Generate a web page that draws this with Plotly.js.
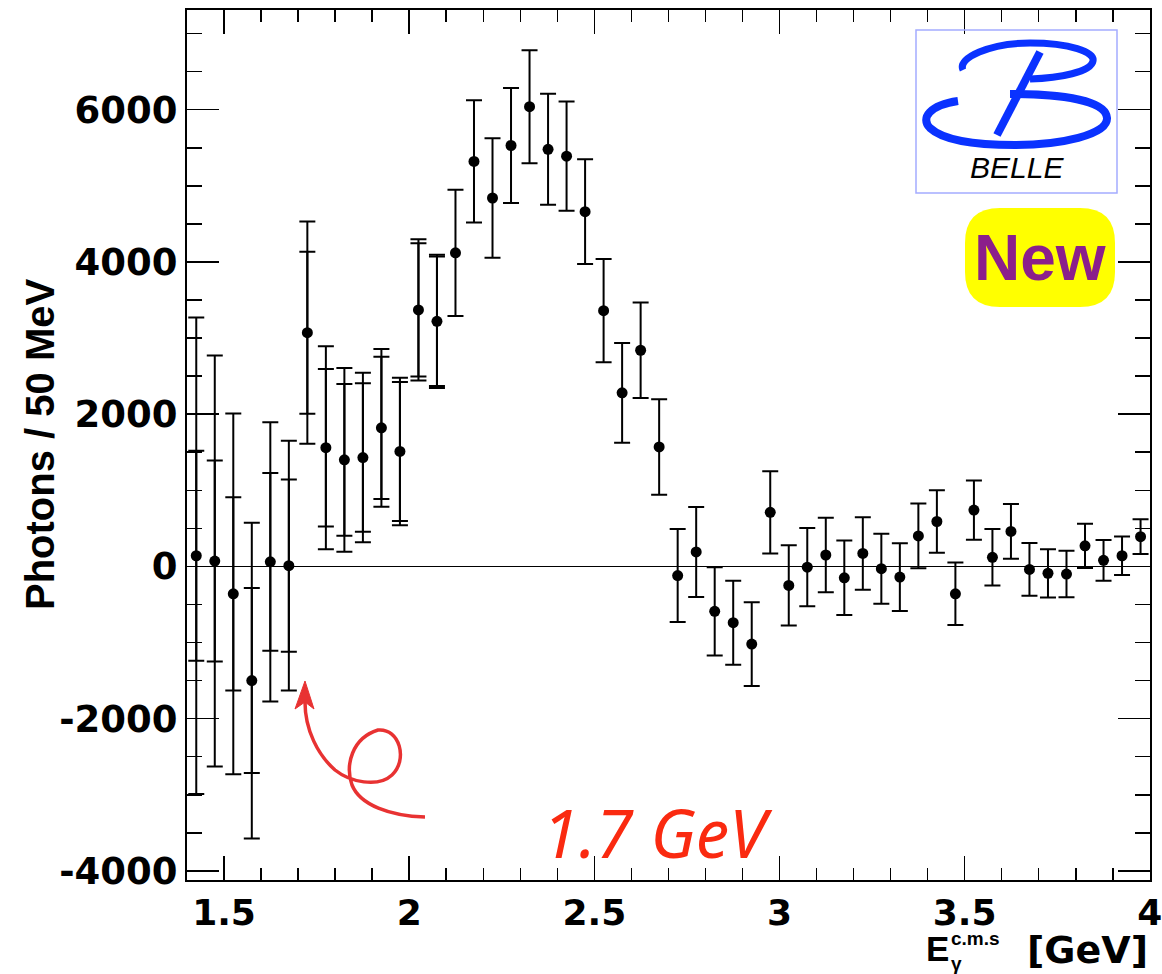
<!DOCTYPE html>
<html>
<head>
<meta charset="utf-8">
<script src="https://cdn.plot.ly/plotly-3.0.1.min.js"></script>
<style>
  html, body { margin: 0; padding: 0; background: #fff; }
  #chart { width: 1162px; height: 974px; }
</style>
</head>
<body>
<div id="chart"></div>
<script>
// Photon energy spectrum, 50 MeV bins (bin centres in GeV)
const binCentres = [
  1.425, 1.475, 1.525, 1.575, 1.625, 1.675, 1.725, 1.775, 1.825, 1.875,
  1.925, 1.975, 2.025, 2.075, 2.125, 2.175, 2.225, 2.275, 2.325, 2.375,
  2.425, 2.475, 2.525, 2.575, 2.625, 2.675, 2.725, 2.775, 2.825, 2.875,
  2.925, 2.975, 3.025, 3.075, 3.125, 3.175, 3.225, 3.275, 3.325, 3.375,
  3.425, 3.475, 3.525, 3.575, 3.625, 3.675, 3.725, 3.775, 3.825, 3.875,
  3.925, 3.975
];

// Photons per bin
const photons = [
   140,    70,  -360, -1500,    60,    10,  3070,  1560,  1400,  1430,
  1820,  1510,  3370,  3220,  4120,  5320,  4840,  5530,  6040,  5480,
  5390,  4660,  3360,  2280,  2840,  1570,  -120,   190,  -590,  -740,
 -1020,   710,  -250,   -10,   150,  -150,   170,   -30,  -140,   400,
   590,  -360,   740,   120,   460,   -40,   -90,  -100,   270,    80,
   140,   390
];

// Total uncertainty (statistical + systematic)
const totalError = [
  3130, 2700, 2370, 2075, 1835, 1640, 1460, 1333, 1206, 1113,
  1036,  968,  927,  875,  830,  803,  784,  754,  742,  730,
   718,  688,  679,  655,  627,  627,  612,  591,  580,  552,
   550,  540,  528,  515,  490,  490,  477,  460,  445,  425,
   410,  410,  390,  372,  360,  346,  317,  306,  290,  267,
   254,  228
];

// Statistical-only uncertainty for the low-energy bins
const statError = [
  1380, 1320, 1270, 1215, 1167, 1132, 1065, 1035,  997,  975,
   935,  913,  876,  850
];

const xTickValues = [1.5, 2, 2.5, 3, 3.5, 4];
const xTickLabels = ['1.5', '2', '2.5', '3', '3.5', '4'];
const yTickValues = [-4000, -2000, 0, 2000, 4000, 6000];
const yTickLabels = ['-4000', '-2000', '0', '2000', '4000', '6000'];

// Page geometry of the frame (pixels)
const L = 187, T = 10, W = 963, H = 870;
const px = x => (x - L) / W;
const py = y => (T + H - y) / H;

// Turn [cmd, x, y, ...] pieces given in page pixels into a paper-space path;
// multi-point curves are split so every segment carries its own command letter.
function pathFrom(parts) {
  const segs = [];
  parts.forEach(p => {
    const cmd = p[0];
    const nums = p.slice(1);
    const per = cmd === 'C' ? 6 : (cmd === 'Q' ? 4 : 2);
    if (nums.length === 0) { segs.push(cmd); return; }
    for (let i = 0; i < nums.length; i += per) {
      const pts = [];
      for (let j = i; j < i + per; j += 2) {
        pts.push(px(nums[j]).toFixed(5) + ',' + py(nums[j + 1]).toFixed(5));
      }
      segs.push(cmd + pts.join(' '));
    }
  });
  return segs.join(' ');
}

const nStat = statError.length;

const traces = [
  {
    type: 'scatter', mode: 'markers',
    x: binCentres.slice(0, nStat), y: photons.slice(0, nStat),
    marker: { size: 11, color: 'rgba(0,0,0,0)' },
    error_y: { type: 'data', array: statError, visible: true,
               color: '#000', thickness: 2, width: 8 },
    hoverinfo: 'skip', showlegend: false
  },
  {
    type: 'scatter', mode: 'markers',
    x: binCentres, y: photons,
    marker: { size: 11, color: '#000' },
    error_y: { type: 'data', array: totalError, visible: true,
               color: '#000', thickness: 2, width: 8 },
    showlegend: false
  }
];

const blue = '#0a32ff';
const red = '#e83232';
const shapes = [
  // logo frame
  { type: 'rect', xref: 'paper', yref: 'paper',
    x0: px(916), x1: px(1117), y0: py(193), y1: py(30),
    line: { color: '#a4acff', width: 1.5 }, fillcolor: 'rgba(0,0,0,0)' },
  // upper bow of the script B
  { type: 'path', xref: 'paper', yref: 'paper',
    path: pathFrom([['M', 963, 70], ['C', 957, 58, 990, 43, 1030, 43, 1070, 43, 1095, 52, 1093, 61, 1091, 72, 1060, 78, 1030, 79]]),
    line: { color: blue, width: 7 } },
  // lower bow of the script B
  { type: 'path', xref: 'paper', yref: 'paper',
    path: pathFrom([['M', 958, 101], ['C', 930, 105, 920, 118, 930, 128, 945, 142, 985, 145, 1015, 145, 1060, 145, 1108, 135, 1107, 118, 1106, 100, 1060, 94, 1010, 94]]),
    line: { color: blue, width: 8 } },
  // stem of the script B
  { type: 'path', xref: 'paper', yref: 'paper',
    path: pathFrom([['M', 1040, 52], ['L', 997, 135]]),
    line: { color: blue, width: 8 } },
  // "New" badge
  { type: 'path', xref: 'paper', yref: 'paper',
    path: pathFrom([['M', 1000, 208], ['L', 1080, 208], ['Q', 1115, 208, 1115, 243], ['L', 1115, 272],
                    ['Q', 1115, 307, 1080, 307], ['L', 1000, 307], ['Q', 965, 307, 965, 272],
                    ['L', 965, 243], ['Q', 965, 208, 1000, 208], ['Z']]),
    fillcolor: '#ffff00', line: { width: 0 } },
  // curly pointer towards 1.7 GeV
  { type: 'path', xref: 'paper', yref: 'paper',
    path: pathFrom([['M', 425, 817], ['C', 390, 816, 360, 805, 352, 785, 345, 765, 352, 738, 378, 730,
                    400, 728, 408, 760, 392, 775, 378, 788, 350, 782, 335, 770, 318, 755, 305, 730, 305, 702]]),
    line: { color: red, width: 3.5 } },
  { type: 'path', xref: 'paper', yref: 'paper',
    path: pathFrom([['M', 305, 681], ['L', 295, 709], ['L', 305, 702], ['L', 314, 709], ['Z']]),
    fillcolor: red, line: { color: red, width: 1 } }
];

const annotations = [
  { xref: 'paper', yref: 'paper', x: px(40), y: 0.5, xanchor: 'center', yanchor: 'middle',
    text: 'Photons / 50 MeV', textangle: -90, showarrow: false,
    font: { family: 'Liberation Sans, Arial, sans-serif', size: 40, weight: 700, color: '#000' } },
  { xref: 'paper', yref: 'paper', x: px(950), y: py(948), xanchor: 'right', yanchor: 'middle',
    text: 'E', showarrow: false, borderpad: 0,
    font: { family: 'Liberation Sans, Arial, sans-serif', size: 35, weight: 700, color: '#000' } },
  // superscript and subscript of the energy symbol, stacked
  { xref: 'paper', yref: 'paper', x: px(950), y: py(951), xanchor: 'left', yanchor: 'middle',
    align: 'left', text: 'c.m.s<br>γ', showarrow: false, borderpad: 0,
    font: { family: 'Liberation Sans, Arial, sans-serif', size: 19, weight: 700, color: '#000' } },
  { xref: 'paper', yref: 'paper', x: px(1087), y: py(950), xanchor: 'center', yanchor: 'middle',
    text: '[GeV]', showarrow: false, borderpad: 0,
    font: { family: 'DejaVu Sans, sans-serif', size: 38, weight: 700, color: '#000' } },
  { xref: 'paper', yref: 'paper', x: px(657), y: py(832), xanchor: 'center', yanchor: 'middle',
    text: '1.7 GeV', showarrow: false,
    font: { family: 'Noto Sans, sans-serif', size: 67, style: 'italic', color: '#fa2a10' } },
  { xref: 'paper', yref: 'paper', x: px(1017), y: py(168), xanchor: 'center', yanchor: 'middle',
    text: 'BELLE', showarrow: false,
    font: { family: 'Liberation Sans, Arial, sans-serif', size: 30, style: 'italic', color: '#000' } },
  { xref: 'paper', yref: 'paper', x: px(1040), y: py(258), xanchor: 'center', yanchor: 'middle',
    text: 'New', showarrow: false,
    font: { family: 'Liberation Sans, Arial, sans-serif', size: 64, weight: 700, color: '#8b1f8b' } }
];

const layout = {
  width: 1162, height: 974,
  margin: { l: L, r: 1162 - L - W, t: T, b: 974 - T - H },
  paper_bgcolor: '#fff', plot_bgcolor: '#fff',
  showlegend: false,
  xaxis: {
    range: [1.4, 4.0005], showgrid: false, zeroline: false,
    showline: true, linecolor: '#000', linewidth: 2, mirror: 'ticks',
    ticks: 'inside', ticklen: 24, tickwidth: 1.5, tickcolor: '#000',
    tickmode: 'array', tickvals: xTickValues, ticktext: xTickLabels,
    ticklabeloverflow: 'allow',
    minor: { ticks: 'inside', ticklen: 12, tickwidth: 1.5, tickcolor: '#000', dtick: 0.1, tick0: 1.4, showgrid: false },
    tickfont: { family: 'DejaVu Sans, sans-serif', size: 36, weight: 700, color: '#000' }
  },
  yaxis: {
    range: [-4120, 7310], showgrid: false,
    zeroline: true, zerolinecolor: '#000', zerolinewidth: 1.5,
    showline: true, linecolor: '#000', linewidth: 2, mirror: 'ticks',
    ticks: 'inside', ticklen: 32, tickwidth: 1.5, tickcolor: '#000',
    tickmode: 'array', tickvals: yTickValues, ticktext: yTickLabels,
    minor: { ticks: 'inside', ticklen: 15, tickwidth: 1.5, tickcolor: '#000', dtick: 500, tick0: 0, showgrid: false },
    tickfont: { family: 'DejaVu Sans, sans-serif', size: 37, weight: 700, color: '#000' }
  },
  shapes: shapes,
  annotations: annotations
};

Plotly.newPlot('chart', traces, layout, { staticPlot: true, displayModeBar: false });
</script>
</body>
</html>
